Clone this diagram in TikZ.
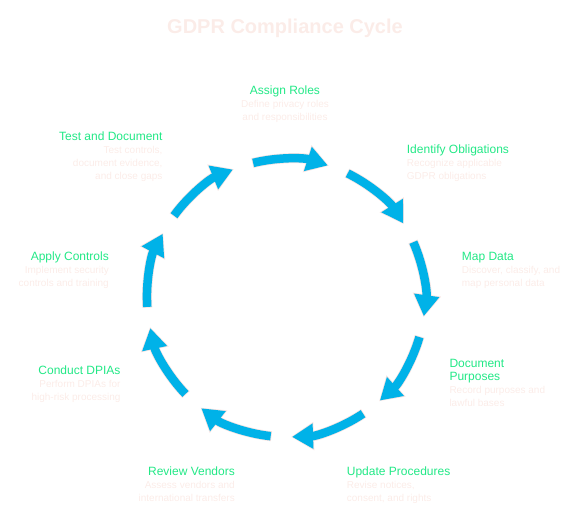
\documentclass[tikz,border=0pt]{standalone}
\usepackage{fontspec}
\setmainfont{Liberation Sans}
\usetikzlibrary{%
  positioning
 ,arrows.meta
 ,calc
}
\definecolor{cycblue}{HTML}{00B2E8}
\definecolor{cycrim}{HTML}{F6E3E1}
\definecolor{stepgreen}{HTML}{22E886}
\definecolor{steptext}{HTML}{FBECE8}
\tikzstyle{cyc}=[line width=8.5pt,draw=cycblue,shorten >=1.2pt,shorten <=0.8pt,-{Triangle[width=24pt,length=21pt]}]
\tikzstyle{rim}=[line width=10pt,draw=cycrim,-{Triangle[width=27pt,length=23pt]}]
\tikzstyle{lbl}=[inner sep=0pt,text=steptext,font=\fontsize{10}{13}\selectfont]
\newcommand{\steptitle}[1]{{\fontsize{12}{13}\selectfont\color{stepgreen}#1}}

\begin{document}
\begin{tikzpicture}[x=1pt,y=1pt]
  \useasboundingbox (0,0) rectangle (577,509);
  \node[lbl,font=\fontsize{20}{24}\selectfont\bfseries,anchor=base] (title) at (285,475.7) {GDPR Compliance Cycle};

  % the cycle
  \coordinate (c) at (286,211);
  \coordinate (roles) at ($(c)+(104:139)$);
  \coordinate (oblig) at ($(c)+(64:139)$);
  \coordinate (map)   at ($(c)+(24:139)$);
  \coordinate (purp)  at ($(c)+(-16:139)$);
  \coordinate (proc)  at ($(c)+(-56:139)$);
  \coordinate (vend)  at ($(c)+(-96:139)$);
  \coordinate (dpia)  at ($(c)+(-136:139)$);
  \coordinate (ctrl)  at ($(c)+(-176:139)$);
  \coordinate (test)  at ($(c)+(-216:139)$);
  \draw[rim] (roles) arc[start angle=104,delta angle=-32,radius=139];
  \draw[cyc] (roles) arc[start angle=104,delta angle=-32,radius=139];
  \draw[rim] (oblig) arc[start angle=64,delta angle=-32,radius=139];
  \draw[cyc] (oblig) arc[start angle=64,delta angle=-32,radius=139];
  \draw[rim] (map) arc[start angle=24,delta angle=-32,radius=139];
  \draw[cyc] (map) arc[start angle=24,delta angle=-32,radius=139];
  \draw[rim] (purp) arc[start angle=-16,delta angle=-32,radius=139];
  \draw[cyc] (purp) arc[start angle=-16,delta angle=-32,radius=139];
  \draw[rim] (proc) arc[start angle=-56,delta angle=-32,radius=139];
  \draw[cyc] (proc) arc[start angle=-56,delta angle=-32,radius=139];
  \draw[rim] (vend) arc[start angle=-96,delta angle=-32,radius=139];
  \draw[cyc] (vend) arc[start angle=-96,delta angle=-32,radius=139];
  \draw[rim] (dpia) arc[start angle=-136,delta angle=-32,radius=139];
  \draw[cyc] (dpia) arc[start angle=-136,delta angle=-32,radius=139];
  \draw[rim] (ctrl) arc[start angle=-176,delta angle=-32,radius=139];
  \draw[cyc] (ctrl) arc[start angle=-176,delta angle=-32,radius=139];
  \draw[rim] (test) arc[start angle=-216,delta angle=-32,radius=139];
  \draw[cyc] (test) arc[start angle=-216,delta angle=-32,radius=139];

  % the steps
  \node[lbl,anchor=north,align=center] (l_roles) at (285,423.5)
    {\steptitle{Assign Roles}\\Define privacy roles\\and responsibilities};
  \node[lbl,anchor=north west,align=left] (l_oblig) at (406.7,364)
    {\steptitle{Identify Obligations}\\Recognize applicable\\GDPR obligations};
  \node[lbl,anchor=north west,align=left] (l_map) at (461.7,257)
    {\steptitle{Map Data}\\Discover, classify, and\\map personal data};
  \node[lbl,anchor=north west,align=left] (l_purp) at (449.3,150)
    {\steptitle{Document}\\\steptitle{Purposes}\\Record purposes and\\lawful bases};
  \node[lbl,anchor=north west,align=left] (l_proc) at (346.7,42.5)
    {\steptitle{Update Procedures}\\Revise notices,\\consent, and rights};
  \node[lbl,anchor=north east,align=right] (l_vend) at (235,42.5)
    {\steptitle{Review Vendors}\\Assess vendors and\\international transfers};
  \node[lbl,anchor=north east,align=right] (l_dpia) at (120.7,143.5)
    {\steptitle{Conduct DPIAs}\\Perform DPIAs for\\high-risk processing};
  \node[lbl,anchor=north east,align=right] (l_ctrl) at (109,257)
    {\steptitle{Apply Controls}\\Implement security\\controls and training};
  \node[lbl,anchor=north east,align=right] (l_test) at (162.7,377)
    {\steptitle{Test and Document}\\Test controls,\\document evidence,\\and close gaps};
\end{tikzpicture}
\end{document}
